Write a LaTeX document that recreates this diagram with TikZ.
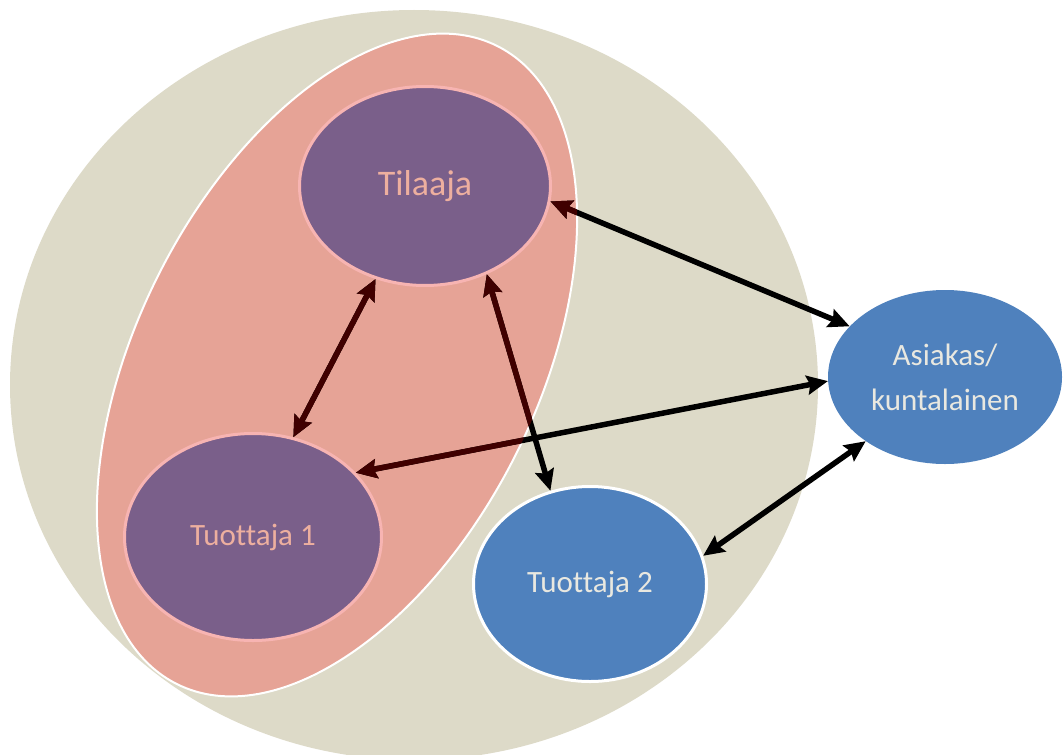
\documentclass[tikz,border=0pt]{standalone}
\usepackage{fontspec}
\setmainfont{Carlito}[Ligatures=NoCommon]
\usetikzlibrary{shapes.geometric,arrows.meta}
\definecolor{beige}{HTML}{DDDAC8}
\definecolor{salmon}{HTML}{E6A396}
\definecolor{plum}{HTML}{7A5F8A}
\definecolor{plumline}{HTML}{F7B4B2}
\definecolor{plumtext}{HTML}{EDAF9F}
\definecolor{blu}{HTML}{4F81BD}
\definecolor{blutext}{HTML}{E9E8E0}
\definecolor{darkred}{HTML}{400000}
\tikzset{
  purpnode/.style={ellipse, fill=plum, draw=plumline, line width=3pt, inner sep=0pt, text=plumtext},
  bluenode/.style={ellipse, fill=blu, inner sep=0pt, text=blutext, align=center},
  conn/.style={line width=5.5pt, arrows={Stealth[length=21pt,width=19pt,inset=3pt]-Stealth[length=21pt,width=19pt,inset=3pt]}},
  pinkshape/.style={rotate around={63.3:(337,-365)}}
}
\newcommand\arrowpaths[1]{%
  \draw[conn,#1] (til.-7) -- (asi.152);
  \draw[conn,#1] (til.-118) -- (tu1.68);
  \draw[conn,#1] (til.-55) -- (tu2.113);
  \draw[conn,#1] (asi.-178) -- (tu1.32);
  \draw[conn,#1] (asi.-141) -- (tu2.14);
}
\begin{document}
\begin{tikzpicture}[x=1pt,y=1pt]
\useasboundingbox (0,0) rectangle (1064,-754);
\begin{scope}
\clip (0,0) rectangle (1064,-754);
\fill[beige] (414,-385) ellipse [x radius=404, y radius=375];
\end{scope}
\filldraw[pinkshape, fill=salmon, draw=white, line width=2pt] (337,-365) ellipse [x radius=357, y radius=200];
\node[purpnode, minimum width=251, minimum height=199, font=\fontsize{36}{40}\selectfont] (til) at (425,-186) {Tilaaja};
\node[purpnode, minimum width=257, minimum height=207, font=\fontsize{31}{36}\selectfont] (tu1) at (253,-537) {Tuottaja 1};
\node[bluenode, draw=white, line width=3pt, minimum width=233, minimum height=195, font=\fontsize{31}{36}\selectfont] (tu2) at (590,-584) {Tuottaja 2};
\node[bluenode, minimum width=234, minimum height=174, font=\fontsize{31}{45}\selectfont] (asi) at (945,-377) {Asiakas/\\kuntalainen};
\arrowpaths{black}
\begin{scope}
\clip[pinkshape] (337,-365) ellipse [x radius=357, y radius=200];
\arrowpaths{darkred}
\end{scope}
\end{tikzpicture}
\end{document}
